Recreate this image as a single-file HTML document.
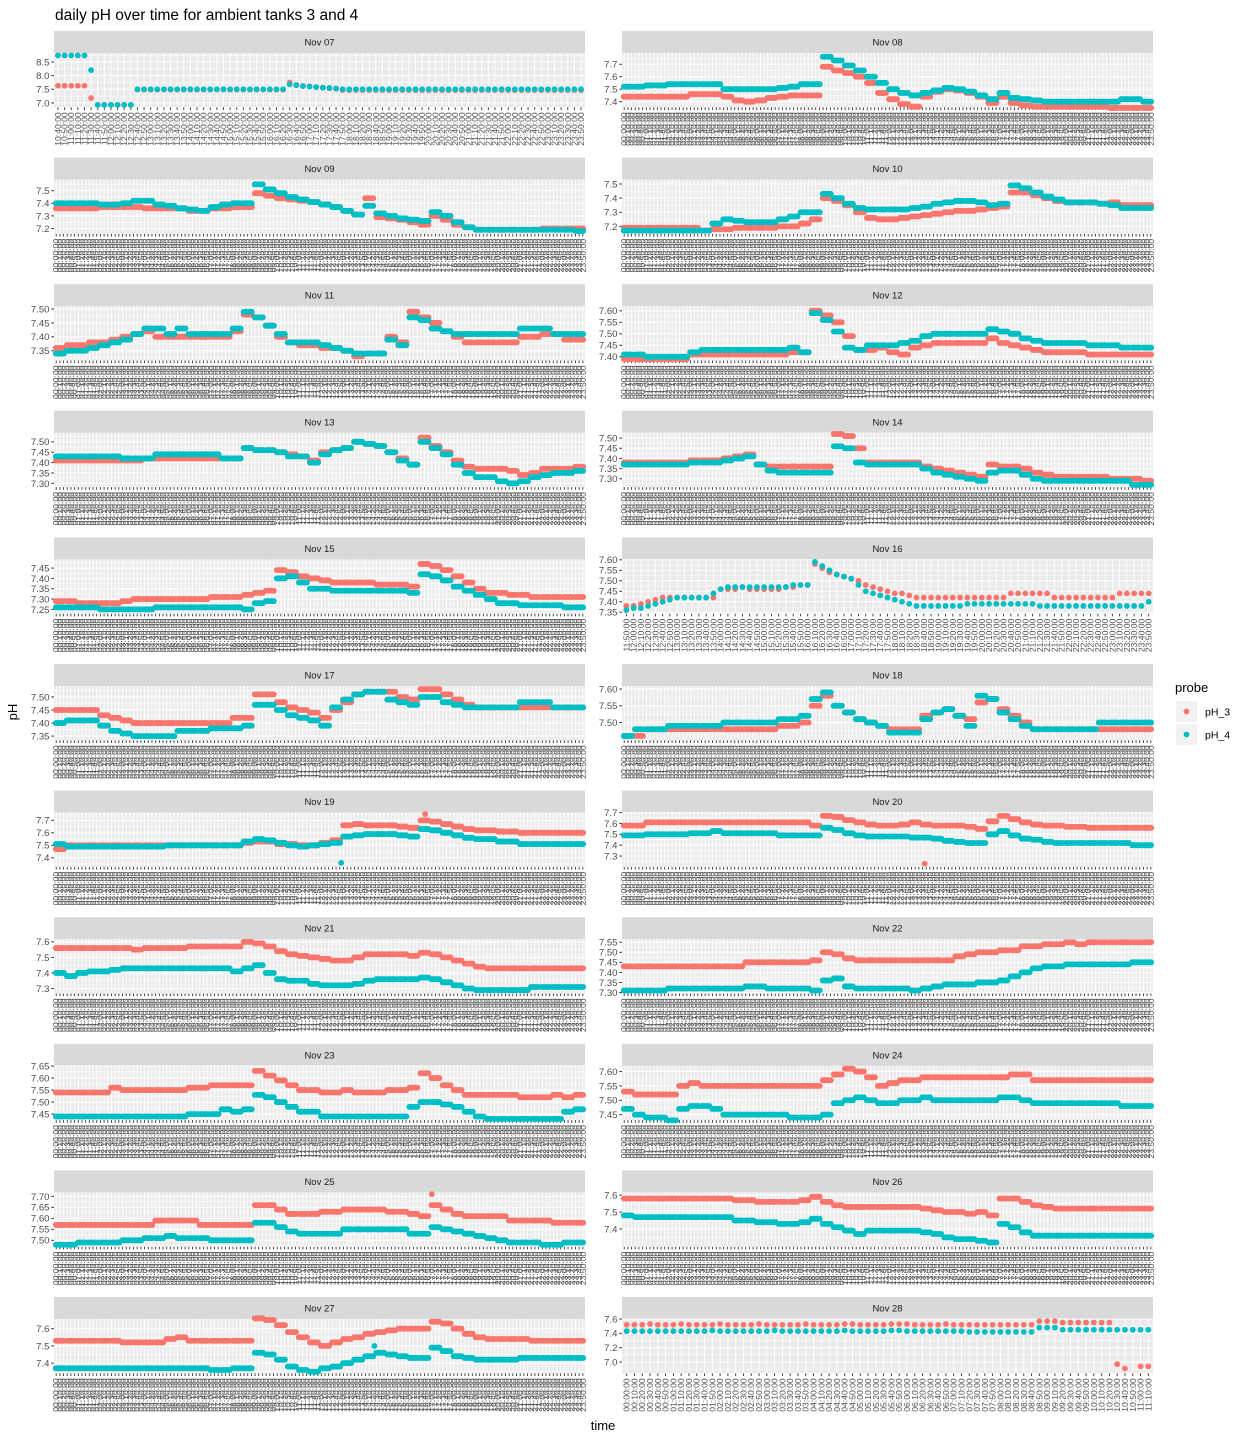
<!DOCTYPE html>
<html><head><meta charset="utf-8"><title>daily pH over time</title>
<style>html,body{margin:0;padding:0;background:#fff}svg{display:block;font-family:"Liberation Sans",Arial,sans-serif}</style>
</head><body>
<svg id="chart" width="1248" height="1440" viewBox="0 0 1248 1440" xmlns="http://www.w3.org/2000/svg">
<rect x="0" y="0" width="1248" height="1440" fill="#ffffff"/>
<text x="55" y="20" font-size="15.5" fill="#000">daily pH over time for ambient tanks 3 and 4</text>
<text x="0" y="0" transform="translate(17,712) rotate(-90)" text-anchor="middle" font-size="13" fill="#000">pH</text>
<text x="603" y="1430" text-anchor="middle" font-size="13" fill="#000">time</text>
<g>
<text x="1175" y="692" font-size="13" fill="#000">probe</text>
<rect x="1176" y="701" width="21" height="21" fill="#f2f2f2"/>
<circle cx="1186.5" cy="711.5" r="2.9" fill="#F8766D"/>
<text x="1205" y="715.5" font-size="10.5" fill="#000">pH_3</text>
<rect x="1176" y="724" width="21" height="21" fill="#f2f2f2"/>
<circle cx="1186.5" cy="734.5" r="2.9" fill="#00BFC4"/>
<text x="1205" y="738.5" font-size="10.5" fill="#000">pH_4</text>
</g>
</svg>
<script>
const panelLabels = ["Nov 07","Nov 08","Nov 09","Nov 10","Nov 11","Nov 12","Nov 13","Nov 14","Nov 15","Nov 16","Nov 17","Nov 18","Nov 19","Nov 20","Nov 21","Nov 22","Nov 23","Nov 24","Nov 25","Nov 26","Nov 27","Nov 28"];

const nov07_p3 = [7.63,7.63,7.63,7.63,7.63,7.18,6.93,6.93,6.93,6.93,6.93,6.93,7.49,7.49,7.49,7.49,7.49,7.49,7.49,7.49,7.49,7.49,7.49,7.49,7.49,7.49,7.49,7.49,7.49,7.49,7.49,7.49,7.49,7.49,7.49,7.75,7.66,7.62,7.60,7.58,7.56,7.54,7.52,7.47,7.47,7.47,7.47,7.47,7.47,7.47,7.47,7.47,7.47,7.47,7.47,7.47,7.47,7.47,7.47,7.47,7.47,7.47,7.47,7.47,7.47,7.47,7.47,7.47,7.47,7.47,7.47,7.47,7.47,7.47,7.47,7.47,7.47,7.47,7.47,7.47];
const nov07_p4 = [8.74,8.74,8.74,8.74,8.74,8.20,6.93,6.93,6.93,6.93,6.93,6.93,7.50,7.50,7.50,7.50,7.50,7.50,7.50,7.50,7.50,7.50,7.50,7.50,7.50,7.50,7.50,7.50,7.50,7.50,7.50,7.50,7.50,7.50,7.50,7.68,7.65,7.62,7.60,7.58,7.56,7.55,7.53,7.50,7.50,7.50,7.50,7.50,7.50,7.50,7.50,7.50,7.50,7.50,7.50,7.50,7.50,7.50,7.50,7.50,7.50,7.50,7.50,7.50,7.50,7.50,7.50,7.50,7.50,7.50,7.50,7.50,7.50,7.50,7.50,7.50,7.50,7.50,7.50,7.50];
const nov08_p3 = [7.44,7.44,7.44,7.44,7.44,7.44,7.46,7.46,7.46,7.44,7.41,7.40,7.41,7.43,7.44,7.45,7.45,7.45,7.68,7.65,7.63,7.60,7.55,7.47,7.42,7.38,7.36,7.44,7.48,7.50,7.49,7.47,7.44,7.39,7.44,7.39,7.37,7.36,7.36,7.36,7.36,7.36,7.36,7.36,7.35,7.35,7.35,7.35];
const nov08_p4 = [7.52,7.52,7.53,7.53,7.54,7.54,7.54,7.54,7.54,7.50,7.50,7.50,7.50,7.50,7.51,7.52,7.54,7.54,7.76,7.73,7.69,7.65,7.60,7.55,7.50,7.47,7.45,7.47,7.49,7.51,7.50,7.48,7.45,7.42,7.47,7.43,7.42,7.41,7.40,7.40,7.40,7.40,7.40,7.40,7.40,7.42,7.42,7.40];
const nov09_p3 = [7.36,7.36,7.36,7.36,7.37,7.37,7.37,7.37,7.36,7.36,7.36,7.36,7.34,7.34,7.36,7.36,7.37,7.37,7.48,7.46,7.44,7.43,7.42,7.41,7.39,7.37,7.34,7.31,7.44,7.29,7.28,7.27,7.25,7.23,7.30,7.27,7.23,7.21,7.19,7.19,7.19,7.19,7.19,7.19,7.20,7.20,7.20,7.20];
const nov09_p4 = [7.40,7.40,7.40,7.40,7.39,7.39,7.40,7.42,7.42,7.39,7.38,7.36,7.35,7.34,7.37,7.39,7.40,7.40,7.55,7.51,7.48,7.45,7.43,7.41,7.39,7.37,7.34,7.31,7.38,7.32,7.30,7.28,7.27,7.26,7.33,7.30,7.25,7.21,7.19,7.19,7.19,7.19,7.19,7.19,7.19,7.19,7.19,7.18];
const nov10_p3 = [7.19,7.19,7.19,7.19,7.19,7.19,7.19,7.17,7.18,7.18,7.19,7.19,7.19,7.19,7.20,7.20,7.22,7.25,7.40,7.38,7.35,7.30,7.26,7.25,7.25,7.26,7.27,7.28,7.29,7.30,7.31,7.31,7.32,7.33,7.34,7.44,7.44,7.42,7.40,7.38,7.37,7.37,7.37,7.36,7.37,7.35,7.35,7.35];
const nov10_p4 = [7.17,7.17,7.17,7.17,7.17,7.17,7.17,7.17,7.22,7.25,7.24,7.23,7.23,7.23,7.25,7.27,7.30,7.30,7.43,7.40,7.36,7.33,7.32,7.32,7.32,7.32,7.33,7.34,7.36,7.37,7.38,7.38,7.37,7.35,7.36,7.49,7.47,7.44,7.41,7.39,7.37,7.37,7.37,7.36,7.35,7.33,7.33,7.33];
const nov11_p3 = [7.36,7.37,7.37,7.38,7.38,7.39,7.40,7.41,7.42,7.40,7.40,7.40,7.40,7.40,7.40,7.40,7.42,7.48,7.47,7.44,7.40,7.38,7.37,7.37,7.36,7.36,7.35,7.33,7.34,7.34,7.40,7.38,7.49,7.47,7.45,7.42,7.40,7.38,7.38,7.38,7.38,7.38,7.40,7.40,7.41,7.41,7.39,7.39];
const nov11_p4 = [7.34,7.35,7.35,7.36,7.37,7.38,7.39,7.41,7.43,7.43,7.41,7.43,7.41,7.41,7.41,7.41,7.43,7.49,7.47,7.44,7.41,7.38,7.38,7.38,7.37,7.36,7.35,7.34,7.34,7.34,7.39,7.37,7.47,7.46,7.43,7.42,7.41,7.41,7.41,7.41,7.41,7.41,7.43,7.43,7.43,7.41,7.41,7.41];
const nov12_p3 = [7.39,7.39,7.39,7.39,7.39,7.39,7.41,7.41,7.41,7.41,7.41,7.41,7.41,7.41,7.41,7.42,7.42,7.60,7.58,7.55,7.49,7.43,7.43,7.44,7.42,7.41,7.44,7.45,7.46,7.46,7.46,7.46,7.46,7.48,7.46,7.45,7.44,7.43,7.42,7.42,7.42,7.42,7.41,7.41,7.41,7.41,7.41,7.41];
const nov12_p4 = [7.41,7.41,7.40,7.40,7.40,7.40,7.42,7.43,7.43,7.43,7.43,7.43,7.43,7.43,7.43,7.44,7.42,7.59,7.56,7.51,7.44,7.43,7.45,7.45,7.45,7.46,7.47,7.49,7.50,7.50,7.50,7.50,7.50,7.52,7.51,7.50,7.48,7.47,7.46,7.46,7.46,7.46,7.45,7.45,7.45,7.44,7.44,7.44];
const nov13_p3 = [7.41,7.41,7.41,7.41,7.41,7.41,7.41,7.41,7.42,7.42,7.42,7.42,7.42,7.42,7.42,7.42,7.42,7.47,7.46,7.46,7.45,7.44,7.43,7.41,7.45,7.46,7.47,7.50,7.49,7.48,7.45,7.42,7.39,7.52,7.48,7.45,7.41,7.38,7.37,7.37,7.37,7.36,7.34,7.35,7.37,7.37,7.37,7.38];
const nov13_p4 = [7.43,7.43,7.43,7.43,7.43,7.43,7.42,7.42,7.42,7.44,7.44,7.44,7.44,7.44,7.44,7.42,7.42,7.47,7.46,7.46,7.45,7.43,7.43,7.40,7.44,7.46,7.47,7.50,7.49,7.48,7.45,7.41,7.39,7.50,7.47,7.44,7.39,7.35,7.33,7.33,7.31,7.30,7.31,7.33,7.34,7.35,7.35,7.36];
const nov14_p3 = [7.38,7.38,7.38,7.38,7.38,7.38,7.39,7.39,7.39,7.40,7.41,7.42,7.37,7.36,7.36,7.36,7.36,7.36,7.36,7.52,7.51,7.45,7.38,7.38,7.38,7.38,7.38,7.36,7.35,7.34,7.33,7.32,7.31,7.37,7.36,7.36,7.35,7.33,7.32,7.31,7.31,7.31,7.31,7.31,7.30,7.30,7.30,7.29];
const nov14_p4 = [7.37,7.37,7.37,7.37,7.37,7.37,7.38,7.38,7.38,7.39,7.40,7.41,7.37,7.34,7.33,7.33,7.33,7.33,7.33,7.46,7.45,7.38,7.37,7.37,7.37,7.37,7.37,7.35,7.33,7.32,7.31,7.30,7.29,7.33,7.34,7.34,7.32,7.30,7.29,7.29,7.29,7.29,7.29,7.29,7.29,7.29,7.27,7.27];
const nov15_p3 = [7.29,7.29,7.28,7.28,7.28,7.28,7.29,7.30,7.30,7.30,7.30,7.30,7.30,7.30,7.31,7.31,7.31,7.32,7.33,7.34,7.44,7.43,7.41,7.40,7.39,7.38,7.38,7.38,7.38,7.37,7.37,7.37,7.36,7.47,7.46,7.44,7.41,7.38,7.35,7.33,7.33,7.32,7.32,7.31,7.31,7.31,7.31,7.31];
const nov15_p4 = [7.26,7.26,7.26,7.26,7.25,7.25,7.25,7.25,7.25,7.26,7.26,7.26,7.26,7.26,7.26,7.26,7.26,7.25,7.28,7.29,7.40,7.41,7.38,7.35,7.35,7.34,7.34,7.34,7.34,7.34,7.34,7.34,7.33,7.42,7.41,7.39,7.36,7.34,7.32,7.30,7.28,7.28,7.27,7.27,7.27,7.27,7.26,7.26];
const nov16_p3 = [7.38,7.38,7.39,7.40,7.41,7.42,7.42,7.42,7.42,7.42,7.42,7.42,7.42,7.46,7.46,7.46,7.47,7.46,7.46,7.46,7.46,7.46,7.47,7.47,7.48,7.48,7.58,7.56,7.54,7.53,7.52,7.51,7.50,7.48,7.47,7.46,7.45,7.44,7.44,7.43,7.42,7.42,7.42,7.42,7.42,7.42,7.42,7.42,7.42,7.42,7.42,7.42,7.42,7.44,7.44,7.44,7.44,7.44,7.44,7.42,7.42,7.42,7.42,7.42,7.42,7.42,7.42,7.42,7.44,7.44,7.44,7.44,7.44];
const nov16_p4 = [7.36,7.37,7.37,7.38,7.39,7.40,7.41,7.42,7.42,7.42,7.42,7.42,7.44,7.46,7.47,7.47,7.47,7.47,7.47,7.47,7.47,7.47,7.47,7.48,7.48,7.48,7.59,7.57,7.55,7.53,7.52,7.51,7.48,7.45,7.44,7.43,7.42,7.41,7.40,7.39,7.38,7.38,7.38,7.38,7.38,7.38,7.38,7.39,7.39,7.39,7.39,7.39,7.39,7.39,7.39,7.39,7.39,7.38,7.38,7.38,7.38,7.38,7.38,7.38,7.38,7.38,7.38,7.38,7.38,7.38,7.38,7.38,7.40];
const nov17_p3 = [7.45,7.45,7.45,7.45,7.43,7.42,7.41,7.40,7.40,7.40,7.40,7.40,7.40,7.40,7.40,7.40,7.42,7.42,7.51,7.51,7.48,7.46,7.45,7.44,7.42,7.45,7.48,7.51,7.52,7.52,7.52,7.50,7.49,7.53,7.53,7.51,7.49,7.47,7.46,7.46,7.46,7.46,7.46,7.46,7.46,7.46,7.46,7.46];
const nov17_p4 = [7.40,7.41,7.41,7.41,7.39,7.37,7.36,7.35,7.35,7.35,7.35,7.37,7.37,7.37,7.38,7.38,7.38,7.39,7.47,7.47,7.45,7.43,7.42,7.41,7.39,7.46,7.49,7.51,7.52,7.52,7.49,7.48,7.47,7.50,7.50,7.48,7.47,7.46,7.46,7.46,7.46,7.46,7.48,7.48,7.48,7.46,7.46,7.46];
const nov18_p3 = [7.46,7.46,7.48,7.48,7.48,7.48,7.48,7.48,7.48,7.48,7.48,7.48,7.48,7.48,7.49,7.49,7.50,7.55,7.58,7.55,7.53,7.51,7.50,7.49,7.48,7.48,7.48,7.52,7.53,7.54,7.52,7.51,7.56,7.57,7.54,7.52,7.50,7.48,7.48,7.48,7.48,7.48,7.48,7.48,7.48,7.48,7.48,7.48];
const nov18_p4 = [7.46,7.48,7.48,7.48,7.49,7.49,7.49,7.49,7.49,7.50,7.50,7.50,7.50,7.50,7.51,7.51,7.52,7.57,7.59,7.55,7.53,7.51,7.50,7.49,7.47,7.47,7.47,7.51,7.53,7.54,7.52,7.49,7.58,7.57,7.53,7.51,7.49,7.48,7.48,7.48,7.48,7.48,7.48,7.50,7.50,7.50,7.50,7.50];
const nov19_p3 = [7.47,7.50,7.50,7.50,7.50,7.50,7.50,7.50,7.50,7.50,7.50,7.50,7.50,7.50,7.50,7.50,7.50,7.52,7.53,7.53,7.51,7.51,7.50,7.50,7.52,7.54,7.66,7.67,7.66,7.66,7.66,7.65,7.64,7.70,7.69,7.67,7.65,7.63,7.62,7.62,7.61,7.61,7.60,7.60,7.60,7.60,7.60,7.60];
const nov19_p4 = [7.51,7.49,7.49,7.49,7.49,7.49,7.49,7.49,7.49,7.49,7.50,7.50,7.50,7.50,7.50,7.50,7.50,7.53,7.55,7.54,7.52,7.50,7.49,7.50,7.51,7.52,7.57,7.58,7.59,7.59,7.59,7.58,7.57,7.63,7.62,7.60,7.58,7.56,7.55,7.55,7.53,7.53,7.51,7.51,7.51,7.51,7.51,7.51];
const nov20_p3 = [7.58,7.58,7.61,7.61,7.61,7.61,7.61,7.61,7.61,7.61,7.61,7.61,7.61,7.61,7.61,7.61,7.61,7.58,7.67,7.66,7.63,7.61,7.59,7.58,7.58,7.59,7.61,7.59,7.58,7.58,7.58,7.57,7.55,7.62,7.67,7.64,7.61,7.59,7.58,7.58,7.57,7.57,7.56,7.56,7.56,7.56,7.56,7.56];
const nov20_p4 = [7.49,7.49,7.50,7.50,7.50,7.50,7.51,7.51,7.53,7.51,7.51,7.51,7.51,7.51,7.49,7.49,7.49,7.49,7.56,7.54,7.51,7.49,7.48,7.48,7.48,7.48,7.47,7.47,7.46,7.44,7.43,7.42,7.42,7.50,7.53,7.49,7.46,7.45,7.43,7.42,7.42,7.42,7.42,7.42,7.42,7.42,7.40,7.40];
const nov21_p3 = [7.56,7.56,7.56,7.56,7.56,7.56,7.56,7.55,7.56,7.56,7.56,7.56,7.57,7.57,7.57,7.57,7.57,7.60,7.59,7.57,7.54,7.52,7.51,7.50,7.49,7.48,7.48,7.50,7.52,7.52,7.52,7.52,7.51,7.53,7.52,7.50,7.48,7.46,7.44,7.43,7.43,7.43,7.43,7.43,7.43,7.43,7.43,7.43];
const nov21_p4 = [7.40,7.38,7.40,7.41,7.41,7.42,7.43,7.43,7.43,7.43,7.43,7.43,7.43,7.43,7.43,7.43,7.41,7.43,7.45,7.40,7.36,7.35,7.35,7.33,7.32,7.32,7.32,7.33,7.35,7.36,7.36,7.36,7.36,7.37,7.36,7.34,7.32,7.30,7.29,7.29,7.29,7.29,7.29,7.31,7.31,7.31,7.31,7.31];
const nov22_p3 = [7.43,7.43,7.43,7.43,7.43,7.43,7.43,7.43,7.43,7.43,7.43,7.45,7.45,7.45,7.45,7.45,7.45,7.46,7.50,7.49,7.47,7.46,7.46,7.46,7.46,7.46,7.46,7.46,7.46,7.46,7.48,7.49,7.50,7.50,7.51,7.51,7.53,7.53,7.54,7.54,7.55,7.54,7.55,7.55,7.55,7.55,7.55,7.55];
const nov22_p4 = [7.31,7.31,7.31,7.31,7.32,7.32,7.32,7.32,7.32,7.32,7.32,7.33,7.33,7.32,7.32,7.32,7.32,7.31,7.36,7.37,7.33,7.32,7.32,7.32,7.32,7.32,7.31,7.32,7.33,7.34,7.34,7.34,7.35,7.35,7.36,7.38,7.40,7.42,7.43,7.43,7.44,7.44,7.44,7.44,7.44,7.44,7.45,7.45];
const nov23_p3 = [7.54,7.54,7.54,7.54,7.54,7.56,7.55,7.55,7.55,7.55,7.55,7.55,7.56,7.56,7.57,7.57,7.57,7.57,7.63,7.61,7.59,7.57,7.55,7.55,7.54,7.54,7.55,7.54,7.54,7.54,7.55,7.55,7.56,7.62,7.60,7.57,7.55,7.53,7.53,7.53,7.53,7.53,7.52,7.52,7.52,7.53,7.52,7.53];
const nov23_p4 = [7.44,7.44,7.44,7.44,7.44,7.44,7.44,7.44,7.44,7.44,7.44,7.44,7.45,7.45,7.45,7.47,7.46,7.47,7.53,7.52,7.50,7.48,7.46,7.46,7.44,7.44,7.44,7.44,7.44,7.44,7.44,7.44,7.48,7.50,7.50,7.49,7.48,7.46,7.44,7.43,7.43,7.43,7.43,7.43,7.43,7.43,7.46,7.47];
const nov24_p3 = [7.53,7.52,7.52,7.52,7.52,7.55,7.56,7.55,7.55,7.55,7.55,7.55,7.55,7.55,7.55,7.55,7.55,7.55,7.57,7.59,7.61,7.60,7.58,7.55,7.56,7.57,7.57,7.58,7.58,7.58,7.58,7.58,7.58,7.58,7.58,7.59,7.59,7.57,7.57,7.57,7.57,7.57,7.57,7.57,7.57,7.57,7.57,7.57];
const nov24_p4 = [7.47,7.45,7.44,7.44,7.43,7.47,7.48,7.48,7.47,7.45,7.45,7.45,7.45,7.45,7.45,7.44,7.44,7.44,7.45,7.49,7.50,7.51,7.50,7.49,7.49,7.50,7.50,7.51,7.50,7.50,7.50,7.50,7.50,7.50,7.51,7.51,7.50,7.49,7.49,7.49,7.49,7.49,7.49,7.49,7.49,7.48,7.48,7.48];
const nov25_p3 = [7.57,7.57,7.57,7.57,7.57,7.57,7.57,7.57,7.57,7.59,7.59,7.59,7.59,7.57,7.57,7.57,7.57,7.57,7.66,7.66,7.64,7.62,7.62,7.62,7.63,7.63,7.64,7.64,7.64,7.64,7.63,7.63,7.62,7.61,7.66,7.64,7.62,7.61,7.61,7.61,7.61,7.59,7.59,7.59,7.59,7.58,7.58,7.58];
const nov25_p4 = [7.48,7.48,7.49,7.49,7.49,7.49,7.50,7.50,7.51,7.51,7.52,7.51,7.51,7.51,7.50,7.50,7.50,7.50,7.58,7.58,7.56,7.54,7.53,7.53,7.53,7.53,7.55,7.55,7.55,7.55,7.55,7.55,7.53,7.53,7.56,7.55,7.54,7.53,7.52,7.51,7.50,7.49,7.49,7.49,7.48,7.48,7.49,7.49];
const nov26_p3 = [7.58,7.58,7.58,7.58,7.58,7.58,7.58,7.58,7.58,7.58,7.57,7.57,7.56,7.56,7.56,7.56,7.57,7.59,7.56,7.54,7.53,7.53,7.53,7.53,7.53,7.53,7.53,7.52,7.51,7.50,7.50,7.49,7.50,7.48,7.58,7.58,7.56,7.54,7.53,7.52,7.52,7.52,7.52,7.52,7.52,7.52,7.52,7.52];
const nov26_p4 = [7.48,7.47,7.47,7.47,7.47,7.47,7.47,7.47,7.47,7.47,7.45,7.45,7.44,7.44,7.43,7.43,7.44,7.46,7.43,7.41,7.39,7.37,7.39,7.39,7.39,7.39,7.39,7.38,7.37,7.35,7.34,7.34,7.33,7.32,7.43,7.41,7.38,7.36,7.36,7.36,7.36,7.36,7.36,7.36,7.36,7.36,7.36,7.36];
const nov27_p3 = [7.53,7.53,7.53,7.53,7.53,7.53,7.52,7.52,7.52,7.52,7.54,7.55,7.53,7.53,7.53,7.53,7.53,7.53,7.66,7.65,7.62,7.58,7.55,7.52,7.50,7.52,7.54,7.55,7.57,7.58,7.59,7.60,7.60,7.60,7.64,7.63,7.60,7.57,7.55,7.54,7.54,7.54,7.54,7.53,7.53,7.53,7.53,7.53];
const nov27_p4 = [7.37,7.37,7.37,7.37,7.37,7.37,7.37,7.37,7.37,7.37,7.37,7.37,7.37,7.37,7.36,7.36,7.37,7.37,7.46,7.45,7.42,7.38,7.36,7.35,7.37,7.38,7.40,7.42,7.44,7.46,7.45,7.44,7.43,7.43,7.49,7.47,7.44,7.43,7.42,7.42,7.42,7.42,7.43,7.43,7.43,7.43,7.43,7.43];
const nov28_p3 = [7.52,7.52,7.52,7.53,7.52,7.52,7.52,7.53,7.52,7.52,7.52,7.52,7.53,7.52,7.52,7.52,7.52,7.53,7.52,7.52,7.52,7.52,7.52,7.53,7.52,7.52,7.52,7.52,7.53,7.53,7.52,7.52,7.52,7.52,7.53,7.53,7.53,7.52,7.52,7.52,7.52,7.53,7.52,7.52,7.52,7.52,7.52,7.52,7.52,7.52,7.52,7.52,7.52,7.57,7.57,7.57,7.55,7.55,7.55,7.55,7.55,7.55,7.55,6.97,6.91,null,6.94,6.94];
const nov28_p4 = [7.43,7.43,7.43,7.43,7.43,7.43,7.43,7.43,7.43,7.43,7.43,7.44,7.43,7.43,7.43,7.43,7.43,7.43,7.43,7.44,7.43,7.43,7.43,7.43,7.43,7.43,7.43,7.43,7.44,7.43,7.43,7.43,7.43,7.43,7.44,7.44,7.43,7.43,7.43,7.43,7.43,7.43,7.43,7.43,7.42,7.42,7.42,7.42,7.42,7.42,7.42,7.42,7.42,7.48,7.48,7.48,7.45,7.45,7.45,7.45,7.45,7.45,7.45,7.45,7.45,7.45,7.45,7.45];

const panelP3 = [nov07_p3,nov08_p3,nov09_p3,nov10_p3,nov11_p3,nov12_p3,nov13_p3,nov14_p3,nov15_p3,nov16_p3,nov17_p3,nov18_p3,nov19_p3,nov20_p3,nov21_p3,nov22_p3,nov23_p3,nov24_p3,nov25_p3,nov26_p3,nov27_p3,nov28_p3];
const panelP4 = [nov07_p4,nov08_p4,nov09_p4,nov10_p4,nov11_p4,nov12_p4,nov13_p4,nov14_p4,nov15_p4,nov16_p4,nov17_p4,nov18_p4,nov19_p4,nov20_p4,nov21_p4,nov22_p4,nov23_p4,nov24_p4,nov25_p4,nov26_p4,nov27_p4,nov28_p4];

const extraPanel = [12, 12, 13, 18, 20];
const extraHour = [12.9, 16.7, 13.6, 17.0, 14.4];
const extraValue = [7.36, 7.75, 7.23, 7.71, 7.50];
const extraProbe = ["pH_4", "pH_3", "pH_3", "pH_3", "pH_4"];

const axisStartMin = [640,0,0,0,0,0,0,0,0,710,0,0,0,0,0,0,0,0,0,0,0,0];
const axisLevels = [80,144,144,144,144,144,144,144,144,73,144,144,144,144,144,144,144,144,144,144,144,68];

const yLimits = [[6.84,8.83],[7.355,7.79],[7.157,7.588],[7.147,7.531],[7.315,7.51],[7.384,7.62],[7.282,7.5435],[7.259,7.526],[7.229,7.492],[7.343,7.602],[7.334,7.542],[7.447,7.609],[7.327,7.762],[7.2,7.7],[7.268,7.617],[7.295,7.565],[7.425,7.651],[7.431,7.62],[7.471,7.718],[7.295,7.616],[7.341,7.656],[6.843,7.6]];
const yTicks = [[7.0,7.5,8.0,8.5],[7.4,7.5,7.6,7.7],[7.2,7.3,7.4,7.5],[7.2,7.3,7.4,7.5],[7.35,7.40,7.45,7.50],[7.40,7.45,7.50,7.55,7.60],[7.30,7.35,7.40,7.45,7.50],[7.30,7.35,7.40,7.45,7.50],[7.25,7.30,7.35,7.40,7.45],[7.35,7.40,7.45,7.50,7.55,7.60],[7.35,7.40,7.45,7.50],[7.50,7.55,7.60],[7.4,7.5,7.6,7.7],[7.3,7.4,7.5,7.6,7.7],[7.3,7.4,7.5,7.6],[7.30,7.35,7.40,7.45,7.50,7.55],[7.45,7.50,7.55,7.60,7.65],[7.45,7.50,7.55,7.60],[7.50,7.55,7.60,7.65,7.70],[7.4,7.5,7.6],[7.4,7.5,7.6],[7.0,7.2,7.4,7.6]];
const yDecimals = [1,1,1,1,2,2,2,2,2,2,2,2,1,1,1,2,2,2,2,1,1,1];

const NS = "http://www.w3.org/2000/svg";
const svg = document.getElementById('chart');
const COL3 = "#F8766D", COL4 = "#00BFC4";
function mk(tag, attrs, parent) {
  const e = document.createElementNS(NS, tag);
  for (const k in attrs) e.setAttribute(k, attrs[k]);
  parent.appendChild(e);
  return e;
}
function fmtTime(m) {
  const h = Math.floor(m / 60), mm = m % 60;
  return (h < 10 ? "0" : "") + h + ":" + (mm < 10 ? "0" : "") + mm + ":00";
}

for (let p = 0; p < panelLabels.length; p++) {
  const col = p % 2, row = Math.floor(p / 2);
  const left = col ? 622 : 54, W = 531;
  const stripTop = 31 + row * 126.6;
  const top = stripTop + 22, H = 54.3, bottom = top + H;
  const n = axisLevels[p];
  const ymin = yLimits[p][0], ymax = yLimits[p][1];
  const xs = k => left + (k + 0.6) / (n + 0.2) * W;
  const ys = v => top + (ymax - v) / (ymax - ymin) * H;
  const slug = panelLabels[p].toLowerCase().replace(' ', '-');

  const g = mk('g', {}, svg);
  
  

  const strip = mk('rect', {x: left, y: stripTop, width: W, height: 22, fill: '#d9d9d9'}, g);
  
  
  const st = mk('text', {x: left + W / 2, y: stripTop + 14.5, 'text-anchor': 'middle', 'font-size': 9.5, fill: '#1a1a1a'}, g);
  st.textContent = panelLabels[p];
  
  

  const bg = mk('rect', {x: left, y: top, width: W, height: H, fill: '#ebebeb'}, g);
  
  

  const grid = mk('g', {}, g);
  
  
  const tk = yTicks[p];
  const step = tk[1] - tk[0];
  for (let i = -1; i < tk.length; i++) {
    const mv = tk[0] + (i + 0.5) * step;
    if (mv > ymin && mv < ymax) mk('line', {x1: left, x2: left + W, y1: ys(mv), y2: ys(mv), stroke: '#fff', 'stroke-width': 0.5}, grid);
  }
  for (let i = 0; i < tk.length; i++) {
    mk('line', {x1: left, x2: left + W, y1: ys(tk[i]), y2: ys(tk[i]), stroke: '#fff', 'stroke-width': 1}, grid);
  }
  for (let k = 0; k < n; k++) {
    mk('line', {x1: xs(k), x2: xs(k), y1: top, y2: bottom, stroke: '#fff', 'stroke-width': 0.9}, grid);
  }

  const yax = mk('g', {}, g);
  
  
  for (let i = 0; i < tk.length; i++) {
    const y = ys(tk[i]);
    mk('line', {x1: left - 2.7, x2: left, y1: y, y2: y, stroke: '#333', 'stroke-width': 1}, yax);
    const t = mk('text', {x: left - 4.5, y: y + 3.4, 'text-anchor': 'end', 'font-size': 9.6, fill: '#4d4d4d'}, yax);
    t.textContent = tk[i].toFixed(yDecimals[p]);
  }

  const xax = mk('g', {}, g);
  
  
  for (let k = 0; k < n; k++) {
    const x = xs(k);
    mk('line', {x1: x, x2: x, y1: bottom, y2: bottom + 2.7, stroke: '#333', 'stroke-width': 0.9}, xax);
    const t = mk('text', {x: 0, y: 0, transform: 'translate(' + (x + 3) + ',' + (bottom + 5) + ') rotate(-90)', 'text-anchor': 'end', 'font-size': 8.6, fill: '#4d4d4d'}, xax);
    t.textContent = fmtTime(axisStartMin[p] + 10 * k);
  }

  const series = [[panelP3[p], COL3, 'ph3'], [panelP4[p], COL4, 'ph4']];
  for (const s of series) {
    const vals = s[0];
    const sg = mk('g', {fill: s[1]}, g);
    
    
    const per = n / vals.length;
    for (let i = 0; i < vals.length; i++) {
      if (vals[i] === null) continue;
      const y = ys(vals[i]);
      if (per > 1.5) {
        const xc = xs(i * per + (per - 1) / 2);
        const w = per * W / (n + 0.2) + 3;
        const r = mk('rect', {x: xc - w / 2, y: y - 2.9, width: w, height: 5.8, rx: 2.9}, sg);
        
        
      } else {
        const c = mk('circle', {cx: xs(i * per), cy: y, r: 2.9}, sg);
        
        
      }
    }
  }
  for (let e = 0; e < extraPanel.length; e++) {
    if (extraPanel[e] !== p) continue;
    const c = mk('circle', {cx: xs(extraHour[e] * 6), cy: ys(extraValue[e]), r: 2.9, fill: extraProbe[e] === 'pH_3' ? COL3 : COL4}, g);
    
    
  }
}
</script>
</body></html>
